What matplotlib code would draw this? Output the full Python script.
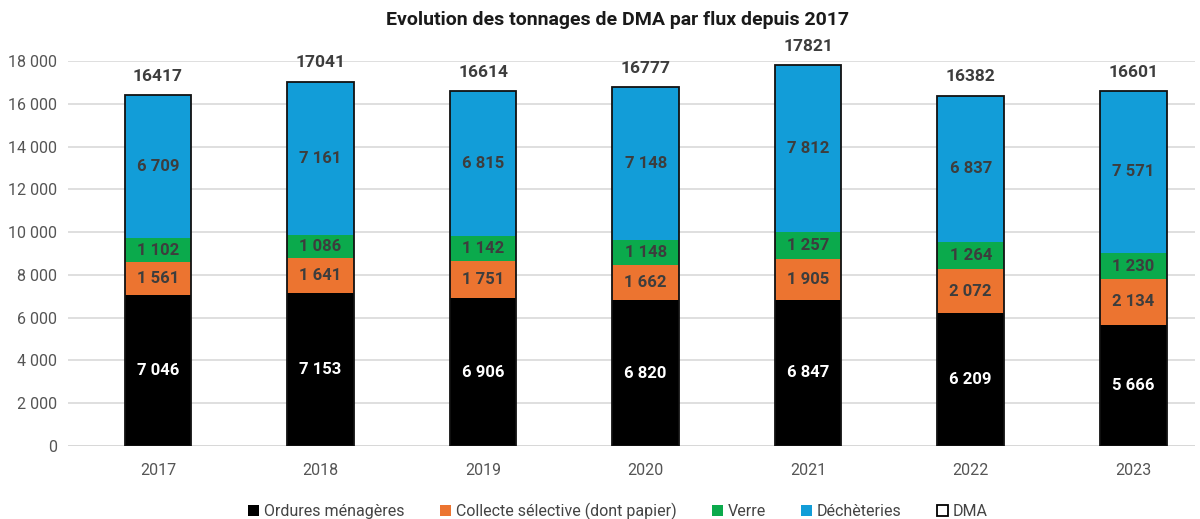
import matplotlib
matplotlib.use("Agg")
import matplotlib.pyplot as plt
from matplotlib.patches import Patch
import numpy as np

years = ["2017", "2018", "2019", "2020", "2021", "2022", "2023"]
om = [7046, 7153, 6906, 6820, 6847, 6209, 5666]
cs = [1561, 1641, 1751, 1662, 1905, 2072, 2134]
verre = [1102, 1086, 1142, 1148, 1257, 1264, 1230]
dech = [6709, 7161, 6815, 7148, 7812, 6837, 7571]
dma = [16417, 17041, 16614, 16777, 17821, 16382, 16601]
yticks = [0, 2000, 4000, 6000, 8000, 10000, 12000, 14000, 16000, 18000]
series_names = ["Ordures ménagères", "Collecte sélective (dont papier)", "Verre", "Déchèteries", "DMA"]

colors = ["#000000", "#EC7430", "#0BAA4C", "#129DD8"]
plt.rcParams['font.family'] = ['Roboto', 'DejaVu Sans']

def fmt(v):
    return f"{v:,}".replace(",", " ")

fig = plt.figure(figsize=(12, 5.19), dpi=100)
ax = fig.add_axes([68/1200, 1-446/519, (1195-68)/1200, (446-61)/519])
x = np.arange(len(years))
w = 0.41
bottom = np.zeros(len(years))
segs = [om, cs, verre, dech]
for i, s in enumerate(segs):
    s = np.array(s)
    ax.bar(x, s, w, bottom=bottom, color=colors[i], zorder=2)
    for xi, b, v in zip(x, bottom, s):
        ax.text(xi, b + v/2, fmt(v), ha="center", va="center", fontsize=12,
                fontweight="bold", color="white" if i == 0 else "#3d3d3d", zorder=4)
    bottom = bottom + s
ax.bar(x, dma, w, fill=False, edgecolor="#111111", linewidth=1.3, zorder=3)
for xi, v in zip(x, dma):
    ax.annotate(str(v), (xi, v), xytext=(0, 8), textcoords="offset points",
                ha="center", va="bottom", fontsize=12.5, fontweight="bold", color="#3d3d3d")

ax.set_xlim(-0.554, 6.38)
ax.set_ylim(0, 18000)
ax.set_yticks(yticks)
ax.set_yticklabels([fmt(v) for v in yticks])
ax.set_xticks(x)
ax.set_xticklabels(years)
ax.tick_params(axis="both", length=0, labelsize=11.5, colors="#555555", pad=8)
ax.tick_params(axis="x", pad=12)
ax.grid(axis="y", color="#d9d9d9", linewidth=1.2, zorder=0)
for sp in ax.spines.values():
    sp.set_visible(False)
ax.axhline(0, color="#cfcfcf", linewidth=1.2, zorder=1)

fig.text(0.515, 1-20/519, "Evolution des tonnages de DMA par flux depuis 2017", ha="center",
         va="center", fontsize=14, fontweight="bold", color="#1a1a1a")

handles = [Patch(facecolor=c) for c in colors] + [Patch(facecolor="white", edgecolor="black", linewidth=1.3)]
fig.legend(handles, series_names, loc="center", bbox_to_anchor=(0.515, 1-511/519), ncol=5,
           frameon=False, fontsize=11.5, handlelength=0.7, handleheight=0.7, handletextpad=0.3,
           columnspacing=2.2, labelcolor="#444444")

fig.savefig("out.png", dpi=100)
